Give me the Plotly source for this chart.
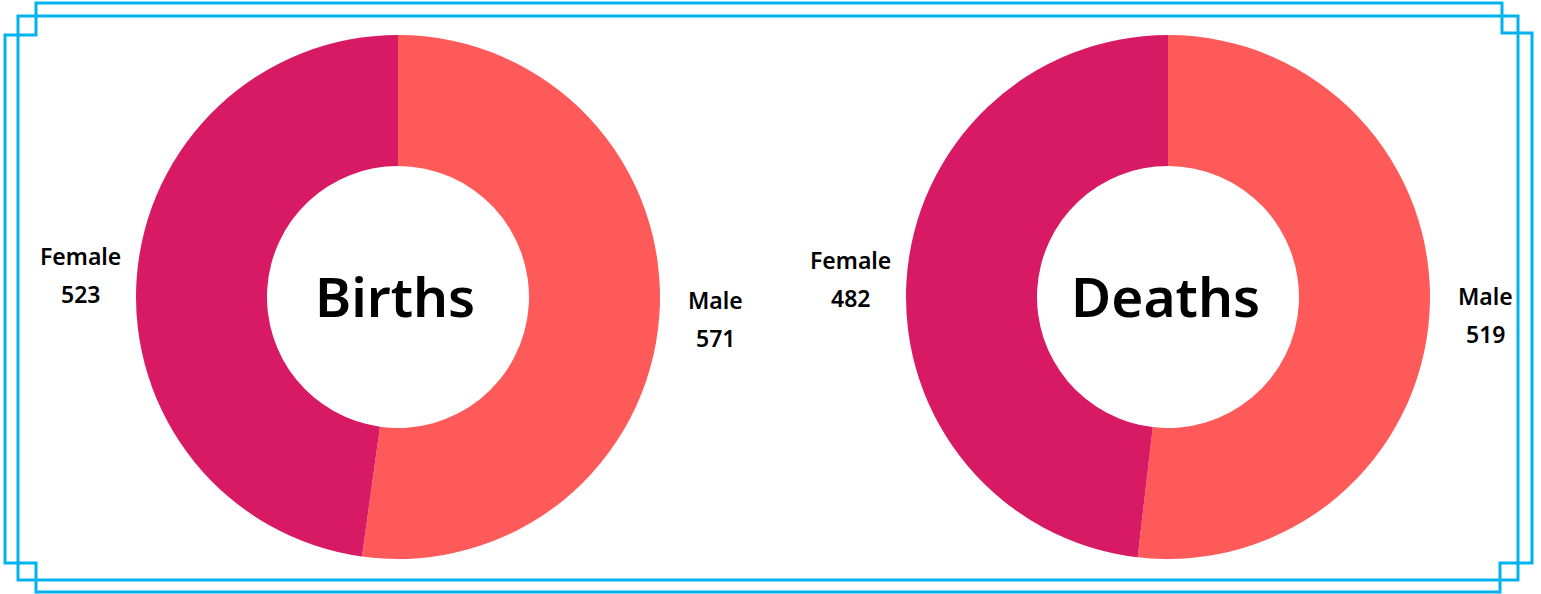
import math
import plotly.graph_objects as go

# values
charts = ["Births", "Deaths"]
genders = ["Male", "Female"]
births = [571, 523]
deaths = [519, 482]
colors = ["#FF5A5A", "#D81964"]

W, H = 1541, 594
R = 262          # outer radius in px
LABEL_R = 318    # label distance from centre in px
centers = [398, 1168]
cy = 297
FONT = "Noto Sans"


def px(x):
    return x / W


def py(y):
    return 1 - y / H


fig = go.Figure()
annotations = []

for name, vals, cx in zip(charts, [births, deaths], centers):
    fig.add_trace(go.Pie(
        labels=genders,
        values=vals,
        hole=0.5,
        sort=False,
        direction="clockwise",
        rotation=0,
        textinfo="none",
        marker=dict(colors=colors, line=dict(width=0)),
        domain=dict(x=[px(cx - R), px(cx + R)], y=[py(cy + R), py(cy - R)]),
        showlegend=False,
        name=name,
    ))
    annotations.append(dict(
        x=px(cx), y=py(cy), xref="paper", yref="paper", text=name,
        xanchor="center", yanchor="middle", yshift=2, xshift=-3,
        showarrow=False, font=dict(family=FONT, size=55, color="black", weight=600),
    ))
    # labels outside along the middle of each slice
    total = sum(vals)
    cum = 0
    for g, v in zip(genders, vals):
        mid = (cum + v / 2) / total * 2 * math.pi
        cum += v
        lx = cx + LABEL_R * math.sin(mid)
        ly = cy - LABEL_R * math.cos(mid)
        for txt, shift in [(g, 19), (str(v), -19)]:
            annotations.append(dict(
                x=px(lx), y=py(ly), xref="paper", yref="paper", text=txt,
                xanchor="center", yanchor="middle",
                yshift=shift, showarrow=False,
                font=dict(family=FONT, size=23, color="black", weight=600),
            ))

# decorative double frame
blue = "#00B2EE"


def path(pts):
    return "M " + " L ".join(f"{px(x)},{py(y)}" for x, y in pts) + " Z"


frame1 = [(36, 3), (1502, 3), (1502, 33), (1532, 33), (1532, 563), (1500, 563),
          (1500, 592), (36, 592), (36, 563), (5, 563), (5, 35), (36, 35)]
frame2 = [(18, 16), (1518, 16), (1518, 580), (18, 580)]
shapes = [
    dict(type="path", xref="paper", yref="paper", path=path(frame1),
         line=dict(color=blue, width=3)),
    dict(type="path", xref="paper", yref="paper", path=path(frame2),
         line=dict(color=blue, width=3)),
]

fig.update_layout(
    width=W, height=H,
    margin=dict(l=0, r=0, t=0, b=0),
    paper_bgcolor="white", plot_bgcolor="white",
    annotations=annotations, shapes=shapes,
)

fig.write_html("out.html", config={"displayModeBar": False},
               post_script="document.body.style.margin='0';")
